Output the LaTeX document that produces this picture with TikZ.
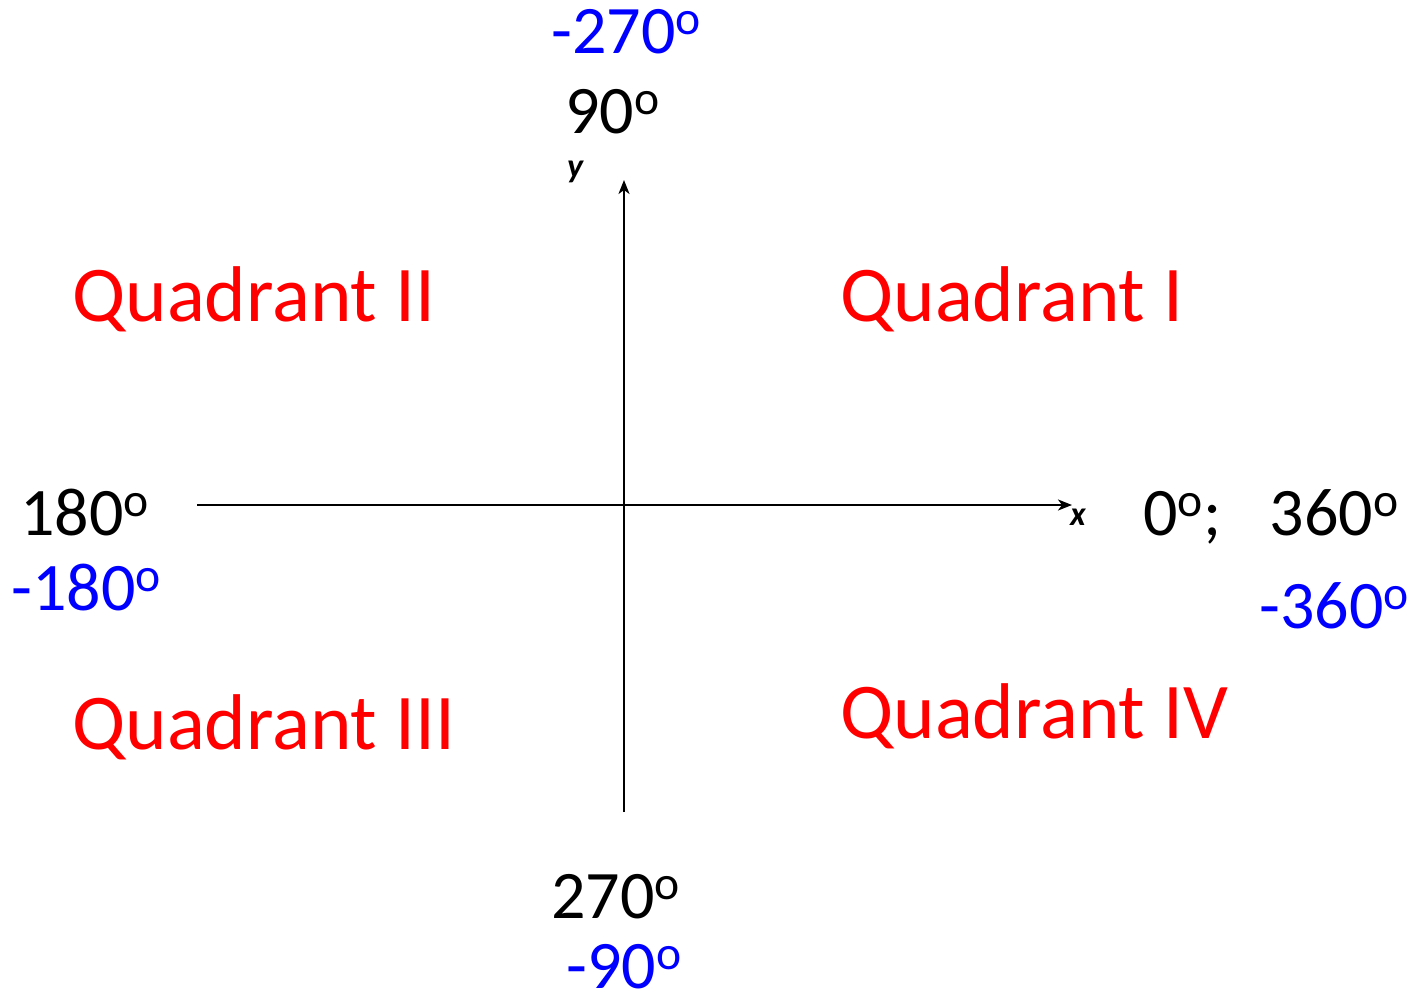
\documentclass[tikz,border=0pt]{standalone}
\usepackage{fontspec}
\setmainfont{Carlito}
\usepackage{tikz}
\usetikzlibrary{arrows.meta}

\newcommand{\dg}[1]{#1\textsuperscript{o}}

\begin{document}
\begin{tikzpicture}[x=0.5pt,y=-0.5pt,
    axis/.style={line width=1pt,-{Stealth[length=7pt,width=5.5pt,inset=2pt]}},
    quad/.style={anchor=base west,inner sep=0pt,text=red,font=\fontsize{39.5}{42}\selectfont},
    angle/.style={anchor=base west,inner sep=0pt,font=\fontsize{34}{38}\selectfont},
    neg/.style={angle,text=blue},
    axlabel/.style={inner sep=0pt,font=\fontsize{17}{18}\selectfont\bfseries\itshape}]
\useasboundingbox (0,0) rectangle (1412,996);

% Axes
\coordinate (xl) at (197,505);
\coordinate (xr) at (1072,505);
\coordinate (yb) at (624,812);
\coordinate (yt) at (624,180);
\draw[axis] (xl) -- (xr);
\draw[axis] (yb) -- (yt);
\node[axlabel] (xlab) at (1078,517) {x};
\node[axlabel] (ylab) at (575,172) {y};

% Quadrants
\node[quad] (q1) at (840,321) {Quadrant I};
\node[quad] (q2) at (72,321) {Quadrant II};
\node[quad] (q3) at (72,749) {Quadrant III};
\node[quad] (q4) at (840,738) {Quadrant IV};

% Positive angles
\node[angle] (a90) at (565,133) {\dg{90}};
\node[angle] (a180) at (20,535) {\dg{180}};
\node[angle] (a0) at (1143,535) {\dg{0};\hspace{0.7em}\dg{360}};
\node[angle] (a270) at (551,918) {\dg{270}};

% Negative angles
\node[neg] (n270) at (551,53) {\dg{-270}};
\node[neg] (n180) at (11,610) {\dg{-180}};
\node[neg] (n360) at (1259,628) {\dg{-360}};
\node[neg] (n90) at (566,988) {\dg{-90}};
\end{tikzpicture}
\end{document}
